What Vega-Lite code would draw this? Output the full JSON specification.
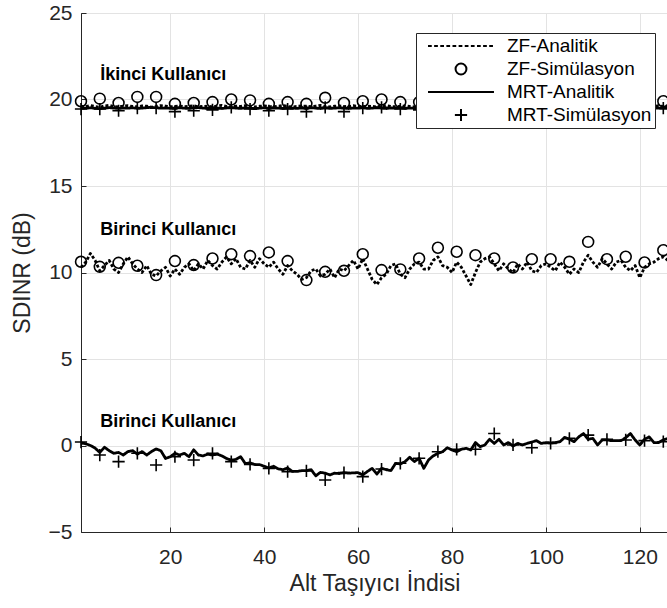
{
  "$schema": "https://vega.github.io/schema/vega-lite/v6.json",
  "width": 587,
  "height": 519,
  "autosize": {"type": "none"},
  "padding": {"left": 81, "top": 13, "right": 0, "bottom": 76},
  "background": "white",
  "config": {
    "font": "Liberation Sans",
    "view": {"stroke": "#262626", "strokeWidth": 1},
    "axis": {
      "domainColor": "#262626",
      "tickColor": "#262626",
      "labelColor": "#262626",
      "titleColor": "#262626",
      "gridColor": "#e3e3e3",
      "labelFontSize": 21,
      "titleFontSize": 23,
      "titleFontWeight": "normal",
      "labelFont": "Liberation Sans",
      "titleFont": "Liberation Sans"
    }
  },
  "datasets": {
    "lines": [
      {"x":1,"z2":19.62,"m2":19.48,"z1":10.3,"m1":0.15},
      {"x":2,"z2":19.58,"m2":19.50,"z1":10.6,"m1":0.1},
      {"x":3,"z2":19.65,"m2":19.52,"z1":11.1,"m1":0.0},
      {"x":4,"z2":19.60,"m2":19.49,"z1":10.7,"m1":-0.15},
      {"x":5,"z2":19.55,"m2":19.47,"z1":10.1,"m1":-0.4},
      {"x":6,"z2":19.63,"m2":19.50,"z1":10.4,"m1":-0.1},
      {"x":7,"z2":19.66,"m2":19.53,"z1":10.7,"m1":-0.3},
      {"x":8,"z2":19.59,"m2":19.50,"z1":10.2,"m1":-0.45},
      {"x":9,"z2":19.57,"m2":19.48,"z1":10.0,"m1":-0.4},
      {"x":10,"z2":19.62,"m2":19.51,"z1":10.5,"m1":-0.55},
      {"x":11,"z2":19.64,"m2":19.50,"z1":10.9,"m1":-0.35},
      {"x":12,"z2":19.60,"m2":19.52,"z1":10.5,"m1":-0.3},
      {"x":13,"z2":19.58,"m2":19.49,"z1":10.2,"m1":-0.5},
      {"x":14,"z2":19.63,"m2":19.50,"z1":10.0,"m1":-0.35},
      {"x":15,"z2":19.61,"m2":19.53,"z1":10.4,"m1":-0.55},
      {"x":16,"z2":19.56,"m2":19.55,"z1":9.9,"m1":-0.35},
      {"x":17,"z2":19.60,"m2":19.52,"z1":9.8,"m1":-0.2},
      {"x":18,"z2":19.65,"m2":19.50,"z1":10.1,"m1":-0.3},
      {"x":19,"z2":19.62,"m2":19.51,"z1":10.3,"m1":-0.75},
      {"x":20,"z2":19.58,"m2":19.49,"z1":9.8,"m1":-0.65},
      {"x":21,"z2":19.60,"m2":19.50,"z1":10.2,"m1":-0.45},
      {"x":22,"z2":19.63,"m2":19.52,"z1":9.9,"m1":-0.55},
      {"x":23,"z2":19.59,"m2":19.50,"z1":10.3,"m1":-0.45},
      {"x":24,"z2":19.61,"m2":19.48,"z1":10.5,"m1":-0.65},
      {"x":25,"z2":19.64,"m2":19.51,"z1":10.1,"m1":-0.25},
      {"x":26,"z2":19.58,"m2":19.53,"z1":10.5,"m1":-0.55},
      {"x":27,"z2":19.60,"m2":19.50,"z1":10.2,"m1":-0.6},
      {"x":28,"z2":19.62,"m2":19.49,"z1":10.7,"m1":-0.5},
      {"x":29,"z2":19.57,"m2":19.52,"z1":10.4,"m1":-0.55},
      {"x":30,"z2":19.63,"m2":19.50,"z1":10.2,"m1":-0.5},
      {"x":31,"z2":19.66,"m2":19.48,"z1":10.6,"m1":-0.6},
      {"x":32,"z2":19.60,"m2":19.51,"z1":10.9,"m1":-0.75},
      {"x":33,"z2":19.58,"m2":19.53,"z1":10.5,"m1":-0.85},
      {"x":34,"z2":19.62,"m2":19.50,"z1":10.8,"m1":-0.8},
      {"x":35,"z2":19.60,"m2":19.49,"z1":10.3,"m1":-0.65},
      {"x":36,"z2":19.64,"m2":19.52,"z1":10.2,"m1":-1.05},
      {"x":37,"z2":19.59,"m2":19.50,"z1":10.7,"m1":-1.0},
      {"x":38,"z2":19.57,"m2":19.47,"z1":10.3,"m1":-1.1},
      {"x":39,"z2":19.61,"m2":19.50,"z1":10.8,"m1":-1.1},
      {"x":40,"z2":19.63,"m2":19.52,"z1":10.5,"m1":-1.2},
      {"x":41,"z2":19.60,"m2":19.49,"z1":10.3,"m1":-1.3},
      {"x":42,"z2":19.58,"m2":19.51,"z1":10.6,"m1":-1.2},
      {"x":43,"z2":19.62,"m2":19.50,"z1":10.2,"m1":-1.35},
      {"x":44,"z2":19.65,"m2":19.48,"z1":9.9,"m1":-1.4},
      {"x":45,"z2":19.60,"m2":19.52,"z1":10.4,"m1":-1.3},
      {"x":46,"z2":19.57,"m2":19.50,"z1":10.1,"m1":-1.5},
      {"x":47,"z2":19.60,"m2":19.49,"z1":9.9,"m1":-1.5},
      {"x":48,"z2":19.63,"m2":19.51,"z1":9.6,"m1":-1.45},
      {"x":49,"z2":19.61,"m2":19.50,"z1":9.7,"m1":-1.45},
      {"x":50,"z2":19.58,"m2":19.53,"z1":10.1,"m1":-1.4},
      {"x":51,"z2":19.62,"m2":19.50,"z1":10.2,"m1":-1.75},
      {"x":52,"z2":19.66,"m2":19.48,"z1":9.8,"m1":-1.55},
      {"x":53,"z2":19.60,"m2":19.51,"z1":9.9,"m1":-1.6},
      {"x":54,"z2":19.57,"m2":19.49,"z1":10.2,"m1":-1.7},
      {"x":55,"z2":19.61,"m2":19.50,"z1":9.7,"m1":-1.6},
      {"x":56,"z2":19.63,"m2":19.52,"z1":10.2,"m1":-1.62},
      {"x":57,"z2":19.59,"m2":19.50,"z1":10.1,"m1":-1.57},
      {"x":58,"z2":19.60,"m2":19.48,"z1":10.4,"m1":-1.6},
      {"x":59,"z2":19.64,"m2":19.51,"z1":10.7,"m1":-1.58},
      {"x":60,"z2":19.61,"m2":19.50,"z1":10.2,"m1":-1.57},
      {"x":61,"z2":19.58,"m2":19.52,"z1":10.8,"m1":-1.7},
      {"x":62,"z2":19.62,"m2":19.49,"z1":10.2,"m1":-1.5},
      {"x":63,"z2":19.60,"m2":19.50,"z1":9.6,"m1":-1.32},
      {"x":64,"z2":19.57,"m2":19.53,"z1":9.3,"m1":-1.65},
      {"x":65,"z2":19.63,"m2":19.50,"z1":9.7,"m1":-1.32},
      {"x":66,"z2":19.65,"m2":19.48,"z1":9.9,"m1":-1.4},
      {"x":67,"z2":19.60,"m2":19.51,"z1":10.4,"m1":-1.45},
      {"x":68,"z2":19.58,"m2":19.50,"z1":10.5,"m1":-1.03},
      {"x":69,"z2":19.61,"m2":19.52,"z1":9.9,"m1":-1.07},
      {"x":70,"z2":19.63,"m2":19.49,"z1":9.7,"m1":-0.93},
      {"x":71,"z2":19.60,"m2":19.50,"z1":10.2,"m1":-0.68},
      {"x":72,"z2":19.57,"m2":19.51,"z1":10.5,"m1":-0.93},
      {"x":73,"z2":19.62,"m2":19.49,"z1":10.6,"m1":-0.74},
      {"x":74,"z2":19.64,"m2":19.52,"z1":10.2,"m1":-1.32},
      {"x":75,"z2":19.60,"m2":19.50,"z1":10.2,"m1":-0.84},
      {"x":76,"z2":19.58,"m2":19.48,"z1":10.7,"m1":-0.6},
      {"x":77,"z2":19.61,"m2":19.51,"z1":10.9,"m1":-0.45},
      {"x":78,"z2":19.65,"m2":19.53,"z1":10.4,"m1":-0.36},
      {"x":79,"z2":19.62,"m2":19.50,"z1":10.3,"m1":-0.13},
      {"x":80,"z2":19.58,"m2":19.49,"z1":10.0,"m1":-0.26},
      {"x":81,"z2":19.60,"m2":19.51,"z1":10.6,"m1":-0.36},
      {"x":82,"z2":19.63,"m2":19.50,"z1":10.3,"m1":-0.22},
      {"x":83,"z2":19.59,"m2":19.48,"z1":9.8,"m1":-0.16},
      {"x":84,"z2":19.61,"m2":19.52,"z1":9.3,"m1":-0.26},
      {"x":85,"z2":19.64,"m2":19.50,"z1":10.0,"m1":0.17},
      {"x":86,"z2":19.60,"m2":19.49,"z1":10.6,"m1":-0.07},
      {"x":87,"z2":19.57,"m2":19.51,"z1":10.8,"m1":0.03},
      {"x":88,"z2":19.62,"m2":19.50,"z1":10.9,"m1":0.36},
      {"x":89,"z2":19.63,"m2":19.53,"z1":10.5,"m1":0.12},
      {"x":90,"z2":19.60,"m2":19.50,"z1":10.1,"m1":0.36},
      {"x":91,"z2":19.58,"m2":19.48,"z1":10.5,"m1":0.03},
      {"x":92,"z2":19.61,"m2":19.51,"z1":10.2,"m1":0.17},
      {"x":93,"z2":19.64,"m2":19.50,"z1":10.0,"m1":-0.03},
      {"x":94,"z2":19.60,"m2":19.49,"z1":10.5,"m1":0.12},
      {"x":95,"z2":19.57,"m2":19.52,"z1":10.2,"m1":0.03},
      {"x":96,"z2":19.62,"m2":19.50,"z1":10.6,"m1":0.12},
      {"x":97,"z2":19.65,"m2":19.48,"z1":10.1,"m1":0.2},
      {"x":98,"z2":19.60,"m2":19.51,"z1":10.0,"m1":0.28},
      {"x":99,"z2":19.58,"m2":19.50,"z1":10.4,"m1":0.12},
      {"x":100,"z2":19.61,"m2":19.52,"z1":10.5,"m1":0.17},
      {"x":101,"z2":19.63,"m2":19.49,"z1":10.3,"m1":0.15},
      {"x":102,"z2":19.60,"m2":19.50,"z1":10.1,"m1":0.17},
      {"x":103,"z2":19.57,"m2":19.53,"z1":10.6,"m1":0.22},
      {"x":104,"z2":19.62,"m2":19.50,"z1":10.3,"m1":0.47},
      {"x":105,"z2":19.64,"m2":19.48,"z1":9.9,"m1":0.36},
      {"x":106,"z2":19.60,"m2":19.51,"z1":10.2,"m1":0.22},
      {"x":107,"z2":19.58,"m2":19.50,"z1":10.0,"m1":0.5},
      {"x":108,"z2":19.61,"m2":19.49,"z1":10.6,"m1":0.69},
      {"x":109,"z2":19.66,"m2":19.52,"z1":11.0,"m1":0.36},
      {"x":110,"z2":19.62,"m2":19.50,"z1":10.6,"m1":0.41},
      {"x":111,"z2":19.58,"m2":19.48,"z1":10.3,"m1":0.03},
      {"x":112,"z2":19.60,"m2":19.51,"z1":10.8,"m1":0.32},
      {"x":113,"z2":19.63,"m2":19.50,"z1":10.5,"m1":0.32},
      {"x":114,"z2":19.59,"m2":19.52,"z1":10.2,"m1":0.28},
      {"x":115,"z2":19.61,"m2":19.49,"z1":10.6,"m1":0.28},
      {"x":116,"z2":19.64,"m2":19.50,"z1":10.7,"m1":0.28},
      {"x":117,"z2":19.60,"m2":19.51,"z1":10.3,"m1":0.45},
      {"x":118,"z2":19.57,"m2":19.48,"z1":10.1,"m1":0.69},
      {"x":119,"z2":19.62,"m2":19.50,"z1":10.4,"m1":0.32},
      {"x":120,"z2":19.63,"m2":19.52,"z1":9.7,"m1":0.03},
      {"x":121,"z2":19.60,"m2":19.50,"z1":10.3,"m1":0.36},
      {"x":122,"z2":19.58,"m2":19.49,"z1":10.5,"m1":0.5},
      {"x":123,"z2":19.61,"m2":19.51,"z1":10.6,"m1":0.17},
      {"x":124,"z2":19.64,"m2":19.50,"z1":10.8,"m1":0.17},
      {"x":125,"z2":19.60,"m2":19.48,"z1":10.9,"m1":0.32},
      {"x":126,"z2":19.62,"m2":19.50,"z1":10.7,"m1":0.41}
    ],
    "sims": [
      {"u":2,"x":1,"ZF-Simülasyon":19.9,"MRT-Simülasyon":19.45},
      {"u":2,"x":5,"ZF-Simülasyon":20.05,"MRT-Simülasyon":19.45},
      {"u":2,"x":9,"ZF-Simülasyon":19.8,"MRT-Simülasyon":19.35},
      {"u":2,"x":13,"ZF-Simülasyon":20.15,"MRT-Simülasyon":19.5},
      {"u":2,"x":17,"ZF-Simülasyon":20.15,"MRT-Simülasyon":19.5},
      {"u":2,"x":21,"ZF-Simülasyon":19.75,"MRT-Simülasyon":19.3},
      {"u":2,"x":25,"ZF-Simülasyon":19.8,"MRT-Simülasyon":19.35},
      {"u":2,"x":29,"ZF-Simülasyon":19.85,"MRT-Simülasyon":19.4},
      {"u":2,"x":33,"ZF-Simülasyon":20.0,"MRT-Simülasyon":19.55},
      {"u":2,"x":37,"ZF-Simülasyon":19.95,"MRT-Simülasyon":19.45},
      {"u":2,"x":41,"ZF-Simülasyon":19.75,"MRT-Simülasyon":19.35},
      {"u":2,"x":45,"ZF-Simülasyon":19.85,"MRT-Simülasyon":19.45},
      {"u":2,"x":49,"ZF-Simülasyon":19.75,"MRT-Simülasyon":19.3},
      {"u":2,"x":53,"ZF-Simülasyon":20.1,"MRT-Simülasyon":19.55},
      {"u":2,"x":57,"ZF-Simülasyon":19.8,"MRT-Simülasyon":19.3},
      {"u":2,"x":61,"ZF-Simülasyon":19.9,"MRT-Simülasyon":19.5},
      {"u":2,"x":65,"ZF-Simülasyon":20.0,"MRT-Simülasyon":19.55},
      {"u":2,"x":69,"ZF-Simülasyon":19.85,"MRT-Simülasyon":19.45},
      {"u":2,"x":73,"ZF-Simülasyon":19.85,"MRT-Simülasyon":19.4},
      {"u":2,"x":77,"ZF-Simülasyon":19.9,"MRT-Simülasyon":19.5},
      {"u":2,"x":81,"ZF-Simülasyon":19.8,"MRT-Simülasyon":19.45},
      {"u":2,"x":85,"ZF-Simülasyon":19.95,"MRT-Simülasyon":19.4},
      {"u":2,"x":89,"ZF-Simülasyon":19.85,"MRT-Simülasyon":19.5},
      {"u":2,"x":93,"ZF-Simülasyon":19.8,"MRT-Simülasyon":19.45},
      {"u":2,"x":97,"ZF-Simülasyon":19.9,"MRT-Simülasyon":19.4},
      {"u":2,"x":101,"ZF-Simülasyon":19.85,"MRT-Simülasyon":19.5},
      {"u":2,"x":105,"ZF-Simülasyon":19.9,"MRT-Simülasyon":19.45},
      {"u":2,"x":109,"ZF-Simülasyon":19.8,"MRT-Simülasyon":19.4},
      {"u":2,"x":113,"ZF-Simülasyon":19.9,"MRT-Simülasyon":19.5},
      {"u":2,"x":117,"ZF-Simülasyon":19.85,"MRT-Simülasyon":19.45},
      {"u":2,"x":121,"ZF-Simülasyon":19.8,"MRT-Simülasyon":19.4},
      {"u":2,"x":125,"ZF-Simülasyon":19.9,"MRT-Simülasyon":19.5},
      {"u":1,"x":1,"ZF-Simülasyon":10.62,"MRT-Simülasyon":0.2},
      {"u":1,"x":5,"ZF-Simülasyon":10.33,"MRT-Simülasyon":-0.55},
      {"u":1,"x":9,"ZF-Simülasyon":10.56,"MRT-Simülasyon":-0.93},
      {"u":1,"x":13,"ZF-Simülasyon":10.39,"MRT-Simülasyon":-0.45},
      {"u":1,"x":17,"ZF-Simülasyon":9.85,"MRT-Simülasyon":-1.13},
      {"u":1,"x":21,"ZF-Simülasyon":10.66,"MRT-Simülasyon":-0.65},
      {"u":1,"x":25,"ZF-Simülasyon":10.43,"MRT-Simülasyon":-0.84},
      {"u":1,"x":29,"ZF-Simülasyon":10.81,"MRT-Simülasyon":-0.45},
      {"u":1,"x":33,"ZF-Simülasyon":11.06,"MRT-Simülasyon":-0.93},
      {"u":1,"x":37,"ZF-Simülasyon":10.95,"MRT-Simülasyon":-1.09},
      {"u":1,"x":41,"ZF-Simülasyon":11.16,"MRT-Simülasyon":-1.32},
      {"u":1,"x":45,"ZF-Simülasyon":10.66,"MRT-Simülasyon":-1.51},
      {"u":1,"x":49,"ZF-Simülasyon":9.56,"MRT-Simülasyon":-1.47},
      {"u":1,"x":53,"ZF-Simülasyon":10.04,"MRT-Simülasyon":-1.99},
      {"u":1,"x":57,"ZF-Simülasyon":10.1,"MRT-Simülasyon":-1.57},
      {"u":1,"x":61,"ZF-Simülasyon":11.06,"MRT-Simülasyon":-1.8},
      {"u":1,"x":65,"ZF-Simülasyon":10.14,"MRT-Simülasyon":-1.36},
      {"u":1,"x":69,"ZF-Simülasyon":10.18,"MRT-Simülasyon":-1.03},
      {"u":1,"x":73,"ZF-Simülasyon":10.81,"MRT-Simülasyon":-0.74},
      {"u":1,"x":77,"ZF-Simülasyon":11.43,"MRT-Simülasyon":-0.36},
      {"u":1,"x":81,"ZF-Simülasyon":11.2,"MRT-Simülasyon":-0.22},
      {"u":1,"x":85,"ZF-Simülasyon":11.0,"MRT-Simülasyon":-0.22},
      {"u":1,"x":89,"ZF-Simülasyon":10.81,"MRT-Simülasyon":0.69},
      {"u":1,"x":93,"ZF-Simülasyon":10.29,"MRT-Simülasyon":0.03},
      {"u":1,"x":97,"ZF-Simülasyon":10.77,"MRT-Simülasyon":-0.13},
      {"u":1,"x":101,"ZF-Simülasyon":10.77,"MRT-Simülasyon":0.12},
      {"u":1,"x":105,"ZF-Simülasyon":10.62,"MRT-Simülasyon":0.41},
      {"u":1,"x":109,"ZF-Simülasyon":11.77,"MRT-Simülasyon":0.6},
      {"u":1,"x":113,"ZF-Simülasyon":10.77,"MRT-Simülasyon":0.36},
      {"u":1,"x":117,"ZF-Simülasyon":10.91,"MRT-Simülasyon":0.32},
      {"u":1,"x":121,"ZF-Simülasyon":10.58,"MRT-Simülasyon":0.28},
      {"u":1,"x":125,"ZF-Simülasyon":11.29,"MRT-Simülasyon":0.22}
    ],
    "labels": [
      {"x":5.1,"y":21.4,"label":"İkinci Kullanıcı"},
      {"x":5.1,"y":12.45,"label":"Birinci Kullanıcı"},
      {"x":5.1,"y":1.37,"label":"Birinci Kullanıcı"}
    ]
  },
  "layer": [
    {
      "data": {"name": "lines"},
      "transform": [{"fold": ["z2", "m2", "z1", "m1"], "as": ["k", "v"]}],
      "mark": {"type": "line", "color": "black", "strokeCap": "butt", "strokeJoin": "round"},
      "encoding": {
        "x": {"field": "x", "type": "quantitative"},
        "y": {"field": "v", "type": "quantitative"},
        "detail": {"field": "k"},
        "strokeDash": {"field": "k", "type": "nominal", "legend": null,
          "scale": {"domain": ["z2", "z1", "m2", "m1"], "range": [[3, 2], [3, 2], [1, 0], [1, 0]]}},
        "strokeWidth": {"field": "k", "type": "nominal", "legend": null,
          "scale": {"domain": ["z2", "z1", "m2", "m1"], "range": [2.8, 2.8, 2, 2]}}
      }
    },
    {
      "data": {"name": "sims"},
      "transform": [{"fold": ["ZF-Simülasyon", "MRT-Simülasyon"], "as": ["t", "v"]}],
      "mark": {"type": "point", "filled": false, "color": "black", "strokeWidth": 1.6, "size": 4624, "opacity": 1},
      "encoding": {
        "x": {"field": "x", "type": "quantitative"},
        "y": {"field": "v", "type": "quantitative"},
        "shape": {
          "field": "t", "type": "nominal",
          "scale": {
            "domain": ["ZF-Analitik", "ZF-Simülasyon", "MRT-Analitik", "MRT-Simülasyon"],
            "range": [
              "M-0.97,0H-0.86M-0.79,0H-0.68M-0.61,0H-0.5M-0.43,0H-0.32M-0.25,0H-0.14M-0.07,0H0.04M0.11,0H0.22M0.29,0H0.4M0.47,0H0.58M0.65,0H0.76M0.83,0H0.94",
              "M0.16,0A0.16,0.16,0,1,1,-0.16,0A0.16,0.16,0,1,1,0.16,0Z",
              "M-0.97,0H0.97",
              "M-0.18,0H0.18M0,-0.18V0.18"
            ]
          },
          "legend": {
            "orient": "none",
            "legendX": 335,
            "legendY": 20,
            "title": null,
            "symbolSize": 4624,
            "symbolStrokeWidth": 2,
            "symbolStrokeColor": "black",
            "symbolFillColor": "transparent",
            "labelFontSize": 19,
            "labelFont": "Liberation Sans",
            "labelColor": "black",
            "padding": 3,
            "strokeColor": "#262626",
            "fillColor": "white",
            "rowPadding": 3,
            "clipHeight": 20,
            "labelOffset": 11,
            "symbolOffset": 7,
            "labelLimit": 300
          }
        }
      }
    },
    {
      "data": {"name": "labels"},
      "mark": {"type": "text", "align": "left", "baseline": "middle", "fontWeight": "bold", "fontSize": 18, "color": "black", "font": "Liberation Sans"},
      "encoding": {
        "x": {"field": "x", "type": "quantitative"},
        "y": {"field": "y", "type": "quantitative"},
        "text": {"field": "label"}
      }
    }
  ],
  "encoding": {
    "x": {"field": "x", "type": "quantitative",
      "scale": {"domain": [1, 126], "nice": false, "zero": false},
      "axis": {"title": "Alt Taşıyıcı İndisi", "values": [20, 40, 60, 80, 100, 120], "grid": true, "tickSize": -5, "labelPadding": 19, "titlePadding": 5}
    },
    "y": {"field": "v", "type": "quantitative",
      "scale": {"domain": [-5, 25], "nice": false, "zero": false},
      "axis": {"title": "SDINR (dB)", "values": [-5, 0, 5, 10, 15, 20, 25], "grid": true, "tickSize": -5, "labelPadding": 14, "titlePadding": 14}
    }
  }
}
